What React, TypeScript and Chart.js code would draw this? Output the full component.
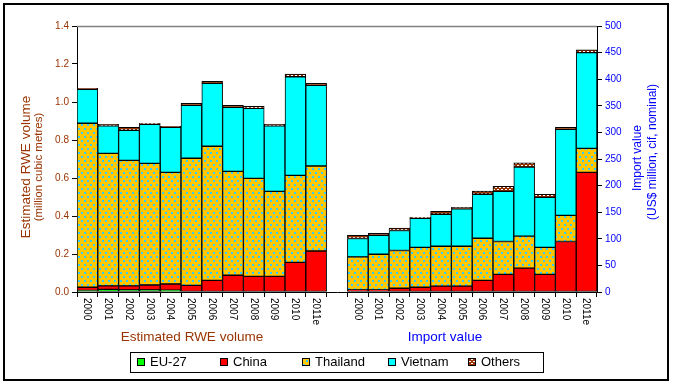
import React, { useEffect, useRef } from "react";
import { Chart, registerables } from "chart.js";

Chart.register(...registerables);

const FONT = "'Liberation Sans', Arial, sans-serif";

const years = ["2000", "2001", "2002", "2003", "2004", "2005", "2006", "2007", "2008", "2009", "2010", "2011e"];
const categories = [...years, "", ...years];

// Estimated RWE volume (million cubic metres)
const volEU = [0.008, 0.014, 0.011, 0.011, 0.009, null, null, null, null, null, null, null];
const volChina = [0.017, 0.018, 0.021, 0.026, 0.033, 0.035, 0.061, 0.088, 0.082, 0.082, 0.156, 0.216];
const volThailand = [0.863, 0.698, 0.661, 0.64, 0.588, 0.669, 0.706, 0.547, 0.516, 0.448, 0.458, 0.447];
const volVietnam = [0.179, 0.145, 0.158, 0.205, 0.237, 0.278, 0.331, 0.337, 0.369, 0.345, 0.519, 0.425];
const volOthers = [0.005, 0.007, 0.016, 0.006, 0.005, 0.011, 0.011, 0.01, 0.01, 0.007, 0.014, 0.01];

// Import value (US$ million, cif, nominal)
const valEU = [null, null, null, null, null, null, null, null, null, null, null, null];
const valChina = [4, 4, 7, 9, 11, 11, 22, 33, 45, 33, 95, 225];
const valThailand = [62, 67, 71, 75, 75, 75, 79, 62, 60, 51, 49, 45];
const valVietnam = [34.5, 35.7, 37.6, 54.5, 60.2, 70.2, 82.7, 94, 129.7, 94, 161.7, 180];
const valOthers = [6.2, 3.8, 4.4, 1.9, 5.6, 3.1, 6.2, 9.4, 8.2, 5.6, 3.7, 5];

const leftTicksMax = 1.4;
const leftStep = 0.2;
const rightTicksMax = 500;
const rightStep = 50;

const seriesNames = ["EU-27", "China", "Thailand", "Vietnam", "Others"];

const LEFT_COLOR = "#993300";
const RIGHT_COLOR = "#0000FF";

function makeThailandPattern(ctx: CanvasRenderingContext2D) {
  const c = document.createElement("canvas");
  c.width = 6;
  c.height = 8;
  const g = c.getContext("2d")!;
  g.fillStyle = "#FFC800";
  g.fillRect(0, 0, 6, 8);
  g.fillStyle = "#33CCFF";
  g.fillRect(0, 0, 2, 2);
  g.fillRect(3, 4, 2, 2);
  return ctx.createPattern(c, "repeat")!;
}

function makeOthersPattern(ctx: CanvasRenderingContext2D) {
  const c = document.createElement("canvas");
  c.width = 4;
  c.height = 4;
  const g = c.getContext("2d")!;
  g.fillStyle = "#993300";
  g.fillRect(0, 0, 4, 4);
  g.fillStyle = "#FFFFFF";
  g.fillRect(1, 1, 2, 1);
  g.fillRect(3, 3, 1, 1);
  g.fillRect(0, 3, 1, 1);
  return ctx.createPattern(c, "repeat")!;
}

export default function App() {
  const ref = useRef<HTMLCanvasElement | null>(null);

  useEffect(() => {
    document.body.style.margin = "0";
    const canvas = ref.current!;
    const ctx = canvas.getContext("2d")!;
    const thai = makeThailandPattern(ctx);
    const others = makeOthersPattern(ctx);
    const fills = ["#00FF00", "#FF0000", thai, "#00FFFF", others];

    const pad = (arr: (number | null)[], left: boolean) => {
      const empty = new Array(13).fill(null);
      return left ? [...arr, ...empty] : [...empty, ...arr];
    };
    const leftSeries = [volEU, volChina, volThailand, volVietnam, volOthers];
    const rightSeries = [valEU, valChina, valThailand, valVietnam, valOthers];

    const datasets: any[] = [];
    leftSeries.forEach((s, i) => {
      datasets.push({
        label: seriesNames[i],
        data: pad(s, true),
        yAxisID: "y",
        backgroundColor: fills[i],
        borderColor: "#000000",
        borderWidth: 1,
        borderSkipped: false,
      });
    });
    rightSeries.forEach((s, i) => {
      datasets.push({
        label: seriesNames[i] + " (value)",
        data: pad(s, false),
        yAxisID: "y2",
        backgroundColor: fills[i],
        borderColor: "#000000",
        borderWidth: 1,
        borderSkipped: false,
      });
    });

    const decor = {
      id: "decor",
      afterDraw(chart: any) {
        const c: CanvasRenderingContext2D = chart.ctx;
        const area = chart.chartArea;
        const xs = chart.scales.x;
        c.save();
        // outer border
        c.strokeStyle = "#000";
        c.lineWidth = 2;
        c.strokeRect(4, 4, 664, 376);
        // top gray line
        c.strokeStyle = "#808080";
        c.lineWidth = 1.5;
        c.beginPath();
        c.moveTo(area.left, area.top + 0.5);
        c.lineTo(area.right, area.top + 0.5);
        c.stroke();

        // x labels rotated clockwise
        c.fillStyle = "#000";
        c.font = `10px ${FONT}`;
        c.textAlign = "left";
        c.textBaseline = "middle";
        categories.forEach((lab, i) => {
          if (!lab) return;
          const x = xs.getPixelForValue(i);
          c.save();
          c.translate(x - 0.5, area.bottom + 6);
          c.rotate(Math.PI / 2);
          c.fillText(lab, 0, 0);
          c.restore();
        });

        // group labels
        c.font = `13.5px ${FONT}`;
        c.textAlign = "center";
        c.textBaseline = "middle";
        c.fillStyle = LEFT_COLOR;
        c.fillText("Estimated RWE volume", 192, 337);
        c.fillStyle = RIGHT_COLOR;
        c.fillText("Import value", 445, 337);

        // axis titles
        const vtext = (t: string, x: number, y: number, size: number, color: string) => {
          c.save();
          c.translate(x, y);
          c.rotate(-Math.PI / 2);
          c.font = `${size}px ${FONT}`;
          c.fillStyle = color;
          c.textAlign = "center";
          c.textBaseline = "middle";
          c.fillText(t, 0, 0);
          c.restore();
        };
        vtext("Estimated RWE volume", 26, 167, 13.5, LEFT_COLOR);
        vtext("(million cubic metres)", 39, 167, 11.5, LEFT_COLOR);
        vtext("Import value", 638, 158, 12, RIGHT_COLOR);
        vtext("(US$ million, cif, nominal)", 653, 152, 12, RIGHT_COLOR);

        // legend
        c.strokeStyle = "#000";
        c.lineWidth = 1;
        c.strokeRect(130.5, 352.5, 413, 20);
        const lx = [137, 220, 302, 388, 468];
        c.font = `13px ${FONT}`;
        c.textAlign = "left";
        c.textBaseline = "middle";
        seriesNames.forEach((n, i) => {
          c.fillStyle = fills[i] as any;
          c.fillRect(lx[i] + 0.5, 358.5, 7, 7);
          c.strokeRect(lx[i] + 0.5, 358.5, 7, 7);
          c.fillStyle = "#000";
          c.fillText(n, lx[i] + 13, 362.5);
        });
        c.restore();
      },
    };

    const chart = new Chart(canvas, {
      type: "bar",
      data: { labels: categories, datasets },
      options: {
        animation: false,
        responsive: false,
        devicePixelRatio: 1,
        layout: { padding: { top: 26, left: 0, right: 0, bottom: 0 } },
        datasets: { bar: { categoryPercentage: 1, barPercentage: 1 } },
        plugins: { legend: { display: false }, tooltip: { enabled: false } },
        scales: {
          x: {
            type: "category",
            stacked: true,
            offset: true,
            grid: { display: true, drawOnChartArea: false, drawTicks: true, tickLength: 5, color: "#000", offset: true },
            border: { display: true, color: "#000", width: 1 },
            ticks: { display: false },
            afterFit: (s: any) => {
              s.height = 91;
            },
          },
          y: {
            position: "left",
            stacked: true,
            min: 0,
            max: leftTicksMax,
            ticks: {
              stepSize: leftStep,
              color: LEFT_COLOR,
              font: { size: 10, family: FONT },
              padding: 3,
              callback: (v: any) => Number(v).toFixed(1),
            },
            grid: { drawOnChartArea: false, drawTicks: true, tickLength: 5, color: "#000" },
            border: { display: true, color: "#000", width: 1 },
            afterFit: (s: any) => {
              s.width = 77;
            },
          },
          y2: {
            position: "right",
            stacked: true,
            min: 0,
            max: rightTicksMax,
            ticks: {
              stepSize: rightStep,
              color: RIGHT_COLOR,
              font: { size: 10, family: FONT },
              padding: 3,
            },
            grid: { drawOnChartArea: false, drawTicks: true, tickLength: 5, color: "#000" },
            border: { display: true, color: "#000", width: 1 },
            afterFit: (s: any) => {
              s.width = 76;
            },
          },
        },
      } as any,
      plugins: [decor],
    });
    return () => chart.destroy();
  }, []);

  return (
    <div style={{ width: 673, height: 383, background: "#fff" }}>
      <canvas ref={ref} width={673} height={383} style={{ display: "block" }} />
    </div>
  );
}
